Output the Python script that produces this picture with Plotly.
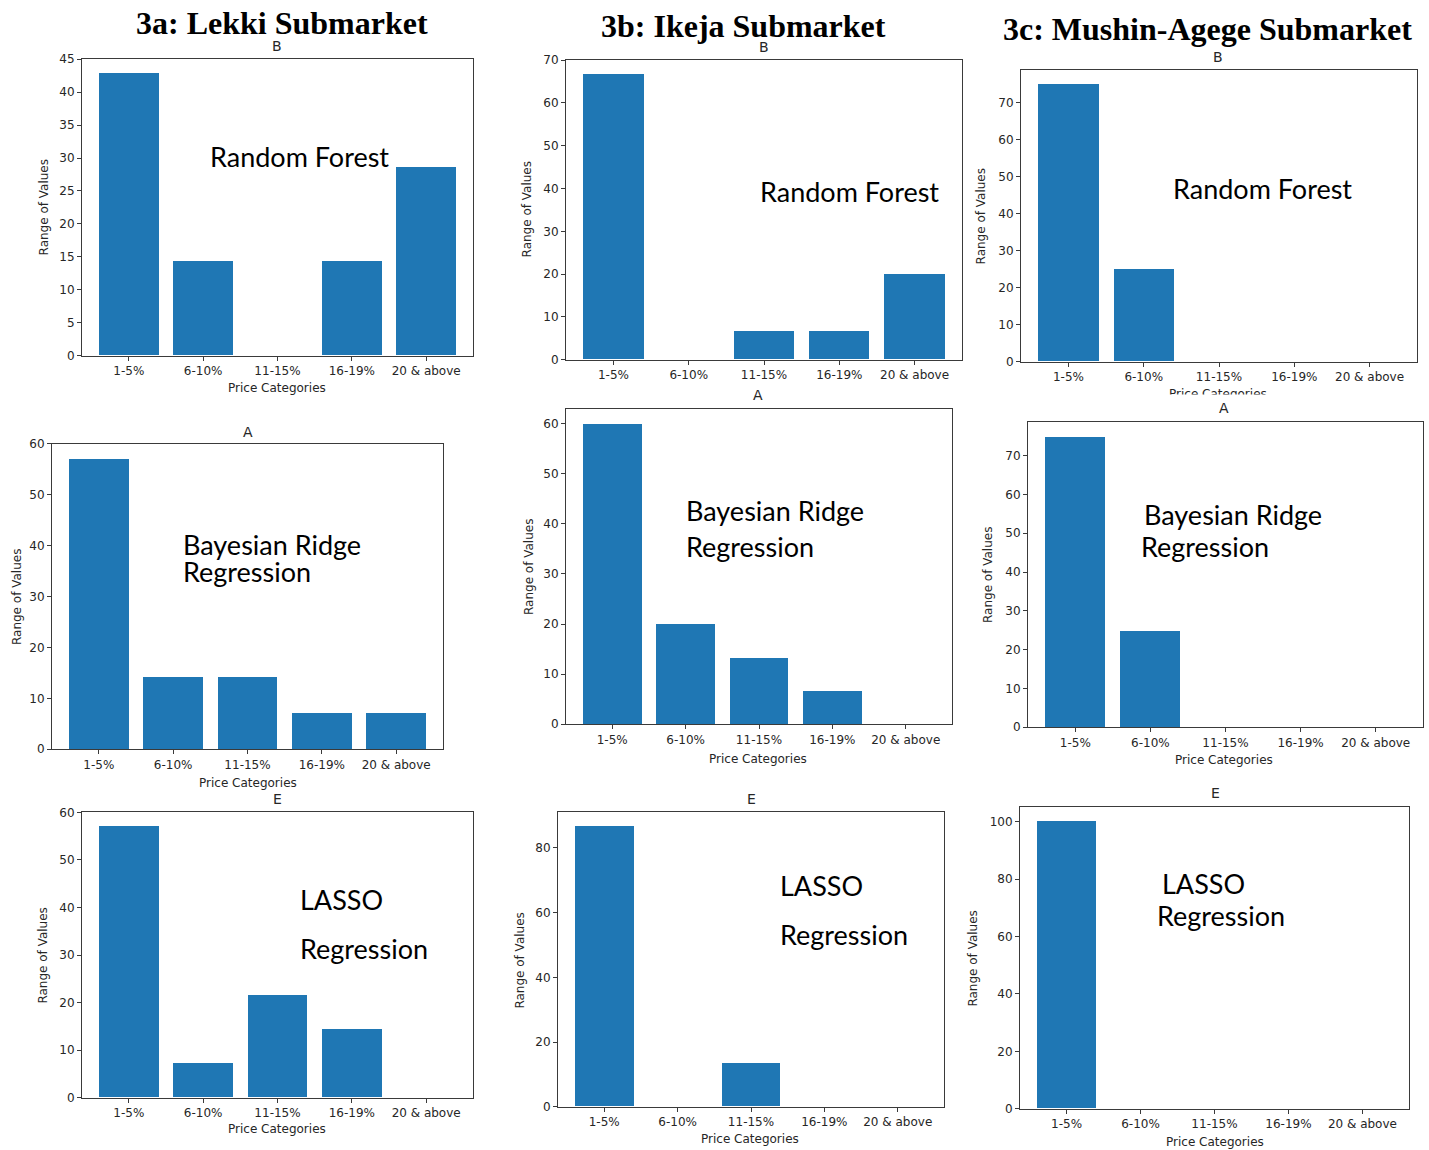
import plotly.graph_objects as go

# Share of predictions falling into each price-error category (%)
categories = ["1-5%", "6-10%", "11-15%", "16-19%", "20 & above"]

lekki_rf = [42.86, 14.29, 0, 14.29, 28.57]
lekki_brr = [57.14, 14.29, 14.29, 7.14, 7.14]
lekki_lasso = [57.14, 7.14, 21.43, 14.29, 0]

ikeja_rf = [66.67, 0, 6.67, 6.67, 20.0]
ikeja_brr = [60.0, 20.0, 13.33, 6.67, 0]
ikeja_lasso = [86.67, 0, 13.33, 0, 0]

mushin_rf = [75.0, 25.0, 0, 0, 0]
mushin_brr = [75.0, 25.0, 0, 0, 0]
mushin_lasso = [100.0, 0, 0, 0, 0]

W, H = 1429, 1150
BAR = "#1f77b4"
AXIS = "#3a3a3a"
TXT = "#262626"
NOTE_FONT = "Lato"
NOTE_SIZE = 27

# the page adds a small vertical offset; layout positions below are given in
# final screen pixels and converted here
V_SCALE = 1150 / 1166
V_OFF = 8 * V_SCALE


def px(x):
    return x / W


def py(y):
    return 1 - ((y - V_OFF) / V_SCALE) / H


# one entry per panel: plot box (left, right, top, bottom) in pixels, tick step,
# panel letter, label positions and the model name lines
panels = [
    dict(values=lekki_rf, box=(82, 473, 60, 356), dtick=5, letter="B", letter_xy=(277, 47),
         ylab=(44, 208), xlab=(277, 388), notes=[("Random Forest", 208, 157)]),
    dict(values=ikeja_rf, box=(566, 962, 61, 360), dtick=10, letter="B", letter_xy=(764, 48),
         ylab=(527, 210), xlab=None, notes=[("Random Forest", 758, 192)]),
    dict(values=mushin_rf, box=(1021, 1417, 71, 362), dtick=10, letter="B", letter_xy=(1218, 58),
         ylab=(981, 217), xlab=(1218, 394), notes=[("Random Forest", 1171, 189)]),
    dict(values=lekki_brr, box=(52, 443, 444, 749), dtick=10, letter="A", letter_xy=(248, 432),
         ylab=(17, 597), xlab=(248, 783),
         notes=[("Bayesian Ridge", 181, 545), ("Regression", 181, 572)]),
    dict(values=ikeja_brr, box=(566, 952, 409, 724), dtick=10, letter="A", letter_xy=(758, 395),
         ylab=(529, 567), xlab=(758, 759),
         notes=[("Bayesian Ridge", 684, 511), ("Regression", 684, 547)]),
    dict(values=mushin_brr, box=(1028, 1423, 422, 727), dtick=10, letter="A", letter_xy=(1224, 408),
         ylab=(988, 575), xlab=(1224, 760),
         notes=[("Bayesian Ridge", 1142, 515), ("Regression", 1139, 547)]),
    dict(values=lekki_lasso, box=(82, 473, 812, 1097), dtick=10, letter="E", letter_xy=(277, 799),
         ylab=(43, 955), xlab=(277, 1128),
         notes=[("LASSO", 298, 899), ("Regression", 298, 948)]),
    dict(values=ikeja_lasso, box=(558, 944, 812, 1106), dtick=20, letter="E", letter_xy=(751, 799),
         ylab=(520, 960), xlab=(750, 1138),
         notes=[("LASSO", 778, 885), ("Regression", 778, 934)]),
    dict(values=mushin_lasso, box=(1020, 1409, 807, 1108), dtick=20, letter="E", letter_xy=(1215, 793),
         ylab=(973, 958), xlab=(1215, 1141),
         notes=[("LASSO", 1160, 883), ("Regression", 1155, 915)]),
]

headings = [
    ("3a: Lekki Submarket", 282, 24),
    ("3b: Ikeja Submarket", 743, 27),
    ("3c: Mushin-Agege Submarket", 1207, 30),
]

fig = go.Figure()
layout = {}
annotations = []

tickfont = dict(family="DejaVu Sans", size=12, color=TXT)

for i, p in enumerate(panels, start=1):
    sfx = "" if i == 1 else str(i)
    fig.add_trace(go.Bar(
        x=categories, y=p["values"], width=0.8,
        xaxis="x" + sfx, yaxis="y" + sfx,
        marker=dict(color=BAR, line=dict(width=0)),
        showlegend=False, hoverinfo="skip",
    ))
    l, r, t, b = p["box"]
    ymax = max(p["values"]) * 1.05
    layout["xaxis" + sfx] = dict(
        domain=[px(l), px(r)], anchor="y" + sfx, type="category",
        categoryorder="array", categoryarray=categories,
        range=[-0.63, 4.63], showline=True, mirror=True, linecolor=AXIS, linewidth=1,
        ticks="outside", ticklen=4, tickcolor=AXIS, tickwidth=1,
        showgrid=False, zeroline=False, tickfont=tickfont, fixedrange=True,
    )
    layout["yaxis" + sfx] = dict(
        domain=[py(b), py(t)], anchor="x" + sfx, range=[0, ymax], dtick=p["dtick"], tick0=0,
        showline=True, mirror=True, linecolor=AXIS, linewidth=1,
        ticks="outside", ticklen=4, tickcolor=AXIS, tickwidth=1,
        showgrid=False, zeroline=False, tickfont=tickfont, fixedrange=True,
    )

    lx, ly = p["letter_xy"]
    annotations.append(dict(text=p["letter"], x=px(lx), y=py(ly), xanchor="center", yanchor="middle",
                            font=dict(family="DejaVu Sans", size=14, color=TXT)))
    yx, yy = p["ylab"]
    annotations.append(dict(text="Range of Values", x=px(yx), y=py(yy), xanchor="center",
                            yanchor="middle", textangle=-90,
                            font=dict(family="DejaVu Sans", size=12, color=TXT)))
    if p["xlab"]:
        xx, xy = p["xlab"]
        annotations.append(dict(text="Price Categories", x=px(xx), y=py(xy), xanchor="center",
                                yanchor="middle", font=dict(family="DejaVu Sans", size=12, color=TXT)))
    for text, nx, ny in p["notes"]:
        annotations.append(dict(text=text, x=px(nx), y=py(ny), xanchor="left", yanchor="middle",
                                font=dict(family=NOTE_FONT, size=NOTE_SIZE, color="black")))

# the lower half of the top-right axis label sits under the next panel
annotations.append(dict(text=" ", x=px(1218), y=py(398.5), xanchor="center", yanchor="middle",
                        width=150, height=7, bgcolor="white", borderpad=0,
                        font=dict(size=1)))

for text, hx, hy in headings:
    annotations.append(dict(text="<b>" + text + "</b>", x=px(hx), y=py(hy), xanchor="center",
                            yanchor="middle",
                            font=dict(family="Liberation Serif", size=32, color="black")))

for a in annotations:
    a.update(xref="paper", yref="paper", showarrow=False)

fig.update_layout(
    width=W, height=H, margin=dict(l=0, r=0, t=0, b=0),
    paper_bgcolor="white", plot_bgcolor="white",
    bargap=0, annotations=annotations, **layout,
)

fig.write_html("out.html")
